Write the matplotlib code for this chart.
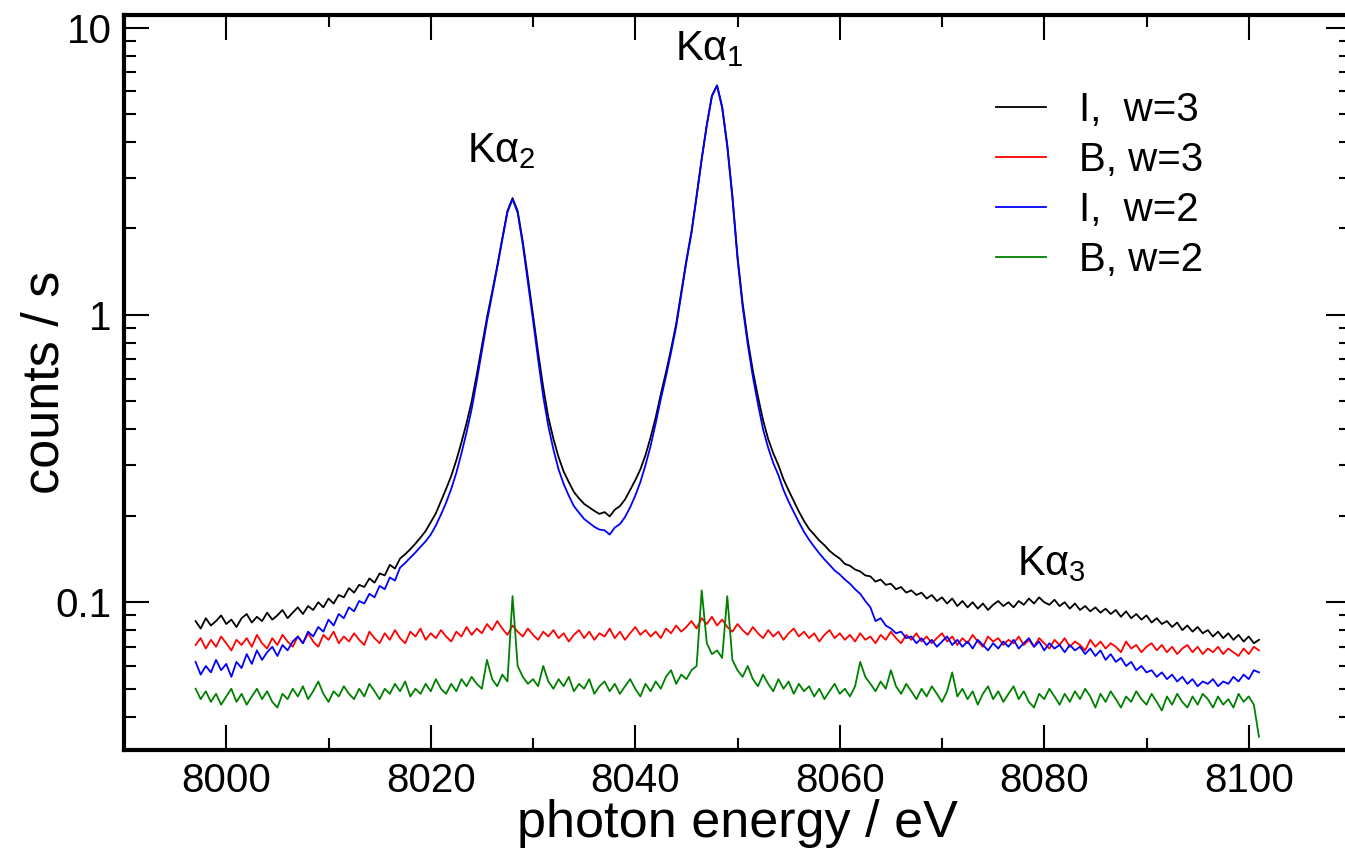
import matplotlib
matplotlib.use('Agg')
import matplotlib.pyplot as plt
import matplotlib.ticker as mticker
import numpy as np

plt.rcParams.update({
    'font.family': ['Liberation Sans', 'DejaVu Sans'],
    'mathtext.fontset': 'custom',
    'mathtext.rm': 'Liberation Sans',
    'mathtext.it': 'Liberation Sans',
    'axes.linewidth': 3.0,
})

# -- Data (counts / s on a 0.5 eV grid) --
energy = np.arange(7997.0, 8101.25, 0.5)

i_w3 = [
    0.086, 0.081, 0.088, 0.083, 0.086, 0.090, 0.084, 0.087, 0.082, 0.088,
    0.091, 0.085, 0.089, 0.086, 0.092, 0.087, 0.090, 0.094, 0.088, 0.092,
    0.096, 0.091, 0.097, 0.094, 0.100, 0.096, 0.103, 0.099, 0.106, 0.104,
    0.112, 0.108, 0.115, 0.113, 0.121, 0.117, 0.126, 0.124, 0.135, 0.131,
    0.142, 0.147, 0.153, 0.160, 0.168, 0.177, 0.190, 0.204, 0.225, 0.248,
    0.275, 0.312, 0.360, 0.420, 0.500, 0.620, 0.780, 0.980, 1.20, 1.48,
    1.85, 2.30, 2.55, 2.30, 1.80, 1.35, 1.00, 0.74, 0.56, 0.44,
    0.37, 0.32, 0.285, 0.262, 0.242, 0.230, 0.220, 0.214, 0.208, 0.203,
    0.206, 0.199, 0.210, 0.216, 0.228, 0.246, 0.266, 0.290, 0.325, 0.375,
    0.44, 0.53, 0.63, 0.76, 0.93, 1.20, 1.55, 1.95, 2.60, 3.50,
    4.60, 5.80, 6.30, 5.30, 3.90, 2.60, 1.60, 1.10, 0.82, 0.64,
    0.52, 0.43, 0.37, 0.33, 0.300, 0.268, 0.245, 0.225, 0.207, 0.192,
    0.180, 0.172, 0.164, 0.158, 0.151, 0.146, 0.142, 0.136, 0.134, 0.130,
    0.128, 0.124, 0.123, 0.118, 0.120, 0.115, 0.116, 0.111, 0.113, 0.108,
    0.110, 0.106, 0.108, 0.103, 0.106, 0.101, 0.104, 0.099, 0.103, 0.097,
    0.101, 0.096, 0.100, 0.095, 0.099, 0.094, 0.098, 0.101, 0.097, 0.100,
    0.096, 0.101, 0.098, 0.103, 0.099, 0.104, 0.100, 0.098, 0.102, 0.097,
    0.100, 0.095, 0.099, 0.094, 0.097, 0.093, 0.096, 0.092, 0.095, 0.091,
    0.094, 0.089, 0.093, 0.088, 0.091, 0.087, 0.090, 0.085, 0.088, 0.084,
    0.086, 0.082, 0.085, 0.080, 0.083, 0.079, 0.082, 0.078, 0.080, 0.076,
    0.079, 0.075, 0.078, 0.074, 0.077, 0.073, 0.076, 0.072, 0.074,
]

b_w3 = [
    0.071, 0.075, 0.069, 0.074, 0.070, 0.076, 0.072, 0.068, 0.074, 0.071,
    0.075, 0.070, 0.077, 0.072, 0.069, 0.075, 0.071, 0.077, 0.073, 0.070,
    0.076, 0.072, 0.078, 0.073, 0.070, 0.077, 0.074, 0.079, 0.072, 0.076,
    0.073, 0.078, 0.074, 0.071, 0.079, 0.075, 0.072, 0.078, 0.074, 0.080,
    0.075, 0.072, 0.079, 0.076, 0.081, 0.074, 0.078, 0.075, 0.080, 0.076,
    0.073, 0.079, 0.076, 0.082, 0.077, 0.081, 0.078, 0.084, 0.080, 0.086,
    0.081, 0.077, 0.083, 0.079, 0.076, 0.081, 0.077, 0.074, 0.079, 0.076,
    0.080, 0.075, 0.078, 0.073, 0.077, 0.080, 0.075, 0.079, 0.074, 0.078,
    0.076, 0.081, 0.075, 0.079, 0.074, 0.078, 0.082, 0.077, 0.080, 0.076,
    0.079, 0.075, 0.081, 0.078, 0.083, 0.079, 0.082, 0.086, 0.081, 0.088,
    0.084, 0.089, 0.083, 0.087, 0.082, 0.079, 0.084, 0.080, 0.077, 0.082,
    0.078, 0.075, 0.080, 0.076, 0.079, 0.074, 0.078, 0.081, 0.076, 0.079,
    0.075, 0.078, 0.073, 0.077, 0.080, 0.075, 0.078, 0.074, 0.077, 0.073,
    0.078, 0.074, 0.076, 0.072, 0.077, 0.074, 0.079, 0.075, 0.072, 0.077,
    0.074, 0.078, 0.073, 0.076, 0.072, 0.075, 0.078, 0.073, 0.076, 0.071,
    0.075, 0.072, 0.077, 0.073, 0.070, 0.076, 0.073, 0.075, 0.071, 0.074,
    0.072, 0.076, 0.071, 0.074, 0.070, 0.075, 0.072, 0.069, 0.074, 0.071,
    0.075, 0.070, 0.073, 0.071, 0.068, 0.074, 0.070, 0.073, 0.069, 0.072,
    0.070, 0.067, 0.073, 0.069, 0.071, 0.067, 0.070, 0.072, 0.068, 0.071,
    0.067, 0.070, 0.066, 0.069, 0.071, 0.067, 0.070, 0.066, 0.069, 0.067,
    0.070, 0.066, 0.069, 0.067, 0.065, 0.069, 0.066, 0.070, 0.068,
]

i_w2 = [
    0.062, 0.056, 0.060, 0.057, 0.063, 0.058, 0.061, 0.055, 0.062, 0.059,
    0.066, 0.061, 0.068, 0.063, 0.067, 0.070, 0.065, 0.071, 0.068, 0.073,
    0.076, 0.072, 0.079, 0.076, 0.082, 0.079, 0.087, 0.083, 0.091, 0.088,
    0.096, 0.093, 0.101, 0.099, 0.107, 0.104, 0.114, 0.111, 0.122, 0.119,
    0.132, 0.137, 0.143, 0.149, 0.156, 0.163, 0.172, 0.185, 0.202, 0.222,
    0.248, 0.282, 0.330, 0.390, 0.470, 0.590, 0.750, 0.950, 1.18, 1.46,
    1.83, 2.28, 2.53, 2.27, 1.76, 1.30, 0.96, 0.70, 0.52, 0.41,
    0.34, 0.29, 0.258, 0.235, 0.216, 0.205, 0.195, 0.189, 0.183, 0.179,
    0.178, 0.172, 0.182, 0.187, 0.198, 0.214, 0.235, 0.262, 0.300, 0.350,
    0.42, 0.51, 0.61, 0.74, 0.91, 1.18, 1.53, 1.93, 2.58, 3.48,
    4.58, 5.78, 6.28, 5.27, 3.86, 2.56, 1.57, 1.07, 0.79, 0.61,
    0.49, 0.40, 0.345, 0.305, 0.277, 0.246, 0.224, 0.206, 0.190, 0.176,
    0.165, 0.156, 0.148, 0.141, 0.135, 0.129, 0.125, 0.120, 0.116, 0.111,
    0.107, 0.101, 0.096, 0.086, 0.088, 0.083, 0.081, 0.078, 0.079, 0.075,
    0.076, 0.072, 0.075, 0.071, 0.074, 0.070, 0.073, 0.076, 0.071, 0.074,
    0.070, 0.073, 0.069, 0.074, 0.071, 0.068, 0.072, 0.069, 0.073, 0.070,
    0.074, 0.069, 0.072, 0.075, 0.070, 0.073, 0.068, 0.072, 0.069, 0.071,
    0.067, 0.071, 0.068, 0.070, 0.066, 0.069, 0.065, 0.068, 0.063, 0.066,
    0.062, 0.064, 0.060, 0.062, 0.058, 0.060, 0.057, 0.058, 0.055, 0.057,
    0.054, 0.056, 0.053, 0.055, 0.052, 0.054, 0.051, 0.053, 0.052, 0.054,
    0.051, 0.053, 0.052, 0.055, 0.053, 0.056, 0.054, 0.058, 0.057,
]

b_w2 = [
    0.050, 0.046, 0.049, 0.045, 0.048, 0.044, 0.047, 0.050, 0.045, 0.048,
    0.044, 0.047, 0.050, 0.046, 0.049, 0.045, 0.043, 0.048, 0.046, 0.050,
    0.047, 0.051, 0.046, 0.049, 0.053, 0.048, 0.045, 0.049, 0.047, 0.051,
    0.048, 0.046, 0.050, 0.047, 0.052, 0.049, 0.046, 0.050, 0.048, 0.052,
    0.049, 0.053, 0.047, 0.050, 0.048, 0.052, 0.049, 0.054, 0.050, 0.048,
    0.052, 0.049, 0.054, 0.051, 0.055, 0.052, 0.050, 0.063, 0.054, 0.051,
    0.056, 0.053, 0.105, 0.060, 0.055, 0.052, 0.054, 0.051, 0.060, 0.053,
    0.050, 0.054, 0.051, 0.055, 0.049, 0.052, 0.050, 0.054, 0.048, 0.051,
    0.053, 0.049, 0.052, 0.048, 0.051, 0.054, 0.050, 0.047, 0.052, 0.049,
    0.053, 0.050, 0.055, 0.058, 0.052, 0.056, 0.054, 0.058, 0.060, 0.110,
    0.072, 0.066, 0.068, 0.064, 0.105, 0.063, 0.058, 0.055, 0.060, 0.054,
    0.051, 0.056, 0.052, 0.049, 0.054, 0.050, 0.053, 0.048, 0.052, 0.049,
    0.051, 0.047, 0.050, 0.046, 0.049, 0.052, 0.048, 0.050, 0.047, 0.051,
    0.062, 0.055, 0.052, 0.049, 0.053, 0.050, 0.058, 0.051, 0.048, 0.052,
    0.049, 0.046, 0.050, 0.047, 0.051, 0.048, 0.045, 0.049, 0.057, 0.047,
    0.050, 0.046, 0.049, 0.044, 0.048, 0.051, 0.046, 0.049, 0.045, 0.048,
    0.051, 0.046, 0.049, 0.045, 0.043, 0.048, 0.046, 0.050, 0.047, 0.044,
    0.048, 0.045, 0.049, 0.046, 0.050, 0.047, 0.043, 0.048, 0.045, 0.049,
    0.046, 0.043, 0.047, 0.045, 0.049, 0.046, 0.044, 0.048, 0.045, 0.042,
    0.047, 0.044, 0.048, 0.045, 0.043, 0.047, 0.044, 0.048, 0.046, 0.043,
    0.047, 0.044, 0.046, 0.043, 0.048, 0.045, 0.047, 0.044, 0.034,
]

series = [
    (i_w3, 'black', 'I,  w=3'),
    (b_w3, '#ff0000', 'B, w=3'),
    (i_w2, '#0000ff', 'I,  w=2'),
    (b_w2, '#008000', 'B, w=2'),
]

# line annotations: (text, x, y)
peaks = [
    (r'K$\alpha_2$', 8023.5, 3.4),
    (r'K$\alpha_1$', 8043.9, 7.7),
    (r'K$\alpha_3$', 8077.3, 0.124),
]

fig = plt.figure(figsize=(13.45, 8.56), dpi=100)
ax = fig.add_axes([124 / 1345, 106 / 856, 1227 / 1345, 735 / 856])

for vals, color, label in series:
    ax.plot(energy, vals, color=color, lw=1.3, label=label)

for txt, x, y in peaks:
    ax.text(x, y, txt, fontsize=30, ha='left', va='baseline')

ax.set_yscale('log')
ax.set_xlim(7990, 8110)
ax.set_ylim(0.0306, 11.07)
ax.xaxis.set_major_locator(mticker.MultipleLocator(20))
ax.xaxis.set_minor_locator(mticker.MultipleLocator(10))
ax.yaxis.set_major_locator(mticker.FixedLocator([0.1, 1, 10]))
ax.yaxis.set_major_formatter(mticker.FuncFormatter(lambda v, p: '%g' % v))
ax.yaxis.set_minor_locator(mticker.LogLocator(base=10, subs=np.arange(2, 10)))
ax.yaxis.set_minor_formatter(mticker.NullFormatter())

ax.tick_params(which='both', direction='in', top=True, right=True,
               labelsize=29, width=1.5)
ax.tick_params(which='major', length=18, pad=9)
ax.tick_params(which='minor', length=8.5)

ax.set_xlabel('photon energy / eV', fontsize=37.5, labelpad=-1)
ax.set_ylabel('counts / s', fontsize=37.5, labelpad=-10)

ax.legend(loc='upper left', bbox_to_anchor=(996 / 1345, 1 - 91 / 856),
          bbox_transform=fig.transFigure, frameon=False, fontsize=29,
          handlelength=1.25, handletextpad=0.8, labelspacing=0.3,
          borderpad=0, borderaxespad=0)

fig.savefig('out.png', dpi=100)
